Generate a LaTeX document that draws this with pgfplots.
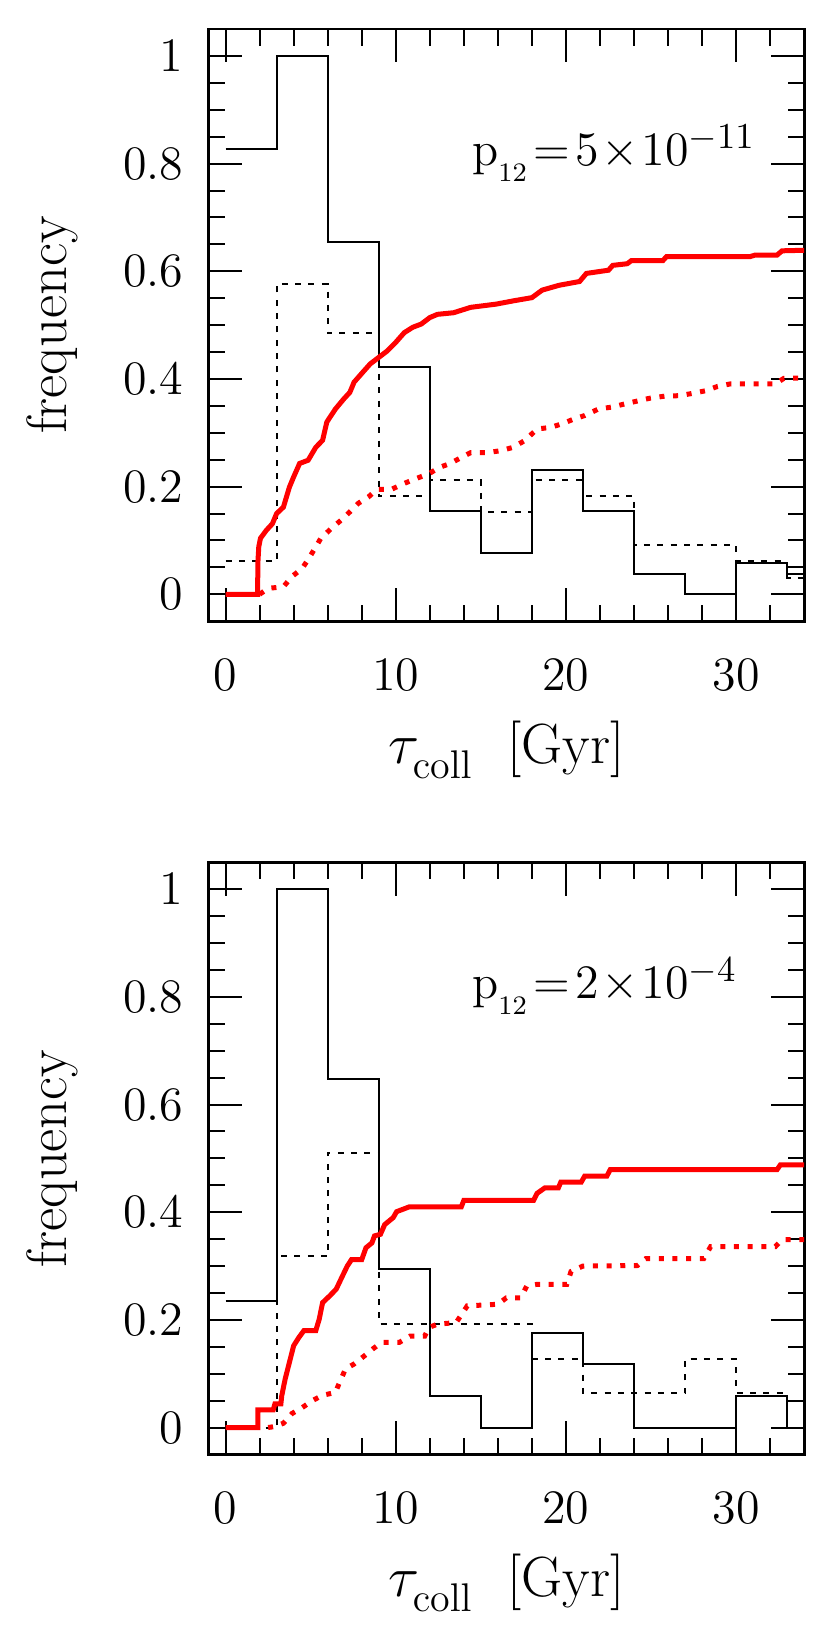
\documentclass[border=0pt]{standalone}
\usepackage{pgfplots}
\pgfplotsset{compat=1.18}
\definecolor{histred}{RGB}{255,0,0}

\pgfplotsset{
  panel/.style={
    scale only axis, width=178.65pt, height=177.6pt,
    xmin=-1, xmax=34, ymin=-0.05, ymax=1.05,
    xtick={0,10,20,30}, ytick={0,0.2,0.4,0.6,0.8,1},
    minor xtick={0,2,...,34}, minor ytick={0,0.05,...,1.01},
    tick align=inside, xtick pos=both, ytick pos=both,
    xticklabel pos=lower, yticklabel pos=left,
    major tick length=10pt, minor tick length=5pt,
    axis line style={line width=0.8pt},
    every tick/.append style={black, line width=0.6pt},
    tick label style={font=\fontsize{14.5}{14.5}\selectfont},
    xticklabel style={yshift=-8pt},
    yticklabel style={xshift=-4pt},
    label style={font=\fontsize{17}{17}\selectfont},
    xlabel={$\tau_{\raisebox{-2pt}{$\scriptstyle\mathrm{coll}$}}$\ \ [Gyr]}, ylabel={frequency},
    x label style={at={(axis description cs:0.5,-0.217)}, anchor=center},
    y label style={at={(axis description cs:-0.263,0.5)}, anchor=center},
  },
  hsolid/.style={const plot mark left, black, line width=0.6pt},
  hdot/.style={const plot mark left, black, line width=0.6pt, dash pattern=on 1.8pt off 2.2pt},
  cumsolid/.style={histred, line width=1.5pt},
  cumdot/.style={histred, line width=1.5pt, dash pattern=on 1.5pt off 2.6pt},
}
\newcommand{\ptwelve}{\mathrm{p}_{\raisebox{-2.5pt}{$\scriptscriptstyle 12$}}}

\begin{document}
\begin{tikzpicture}
\path[use as bounding box] (-62.55pt,-301.65pt) rectangle (186.45pt,186.3pt);

% top panel
\begin{axis}[panel, at={(0,0)}, anchor=south west]
\addplot[hsolid] coordinates {(0,0.827) (3,1) (6,0.654) (9,0.423) (12,0.154) (15,0.077) (18,0.231) (21,0.154) (24,0.038) (27,0) (30,0.058) (33,0.038) (36,0.038)};
\addplot[hdot] coordinates {(0,0.061) (3,0.576) (6,0.485) (9,0.182) (12,0.212) (15,0.152) (18,0.212) (21,0.182) (24,0.091) (27,0.091) (30,0.061) (33,0.03) (36,0.03)};
\addplot[cumsolid] coordinates {(0,0) (1.88,0) (1.9,0.06) (1.95,0.088) (2.05,0.104) (2.4,0.119) (2.75,0.131) (3.0,0.15) (3.4,0.162) (3.75,0.199) (4.0,0.218) (4.35,0.243) (4.85,0.249) (5.3,0.273) (5.7,0.286) (5.95,0.32) (6.45,0.344) (6.95,0.363) (7.3,0.375) (7.55,0.394) (8.05,0.412) (8.5,0.428) (9.0,0.44) (9.5,0.452) (10.0,0.468) (10.5,0.486) (11.0,0.496) (11.5,0.502) (12.0,0.514) (12.45,0.52) (13.4,0.523) (14.4,0.533) (15.9,0.539) (16.9,0.545) (18.0,0.551) (18.6,0.565) (19.6,0.574) (20.8,0.581) (21.2,0.596) (22.5,0.602) (22.75,0.611) (23.6,0.614) (23.85,0.62) (25.7,0.62) (25.9,0.627) (30.8,0.627) (31.1,0.63) (32.4,0.63) (32.7,0.638) (34,0.639)};
\addplot[cumdot] coordinates {(2.0,0) (2.5,0.011) (3.4,0.014) (3.9,0.033) (4.5,0.048) (4.9,0.067) (5.6,0.104) (6.2,0.122) (6.8,0.138) (7.3,0.153) (7.8,0.169) (8.4,0.181) (8.9,0.195) (9.75,0.195) (10.5,0.206) (11.2,0.215) (11.95,0.224) (12.6,0.236) (13.2,0.243) (13.9,0.255) (14.4,0.263) (15.4,0.263) (16.2,0.267) (16.9,0.273) (17.6,0.286) (18.3,0.307) (19.1,0.31) (19.8,0.317) (20.5,0.326) (21.1,0.332) (21.9,0.344) (22.75,0.348) (23.5,0.354) (24.2,0.359) (24.9,0.364) (25.8,0.368) (26.7,0.369) (27.4,0.373) (28.2,0.378) (28.9,0.386) (29.7,0.391) (32.3,0.391) (32.8,0.401) (34,0.402)};
\node[anchor=west, font=\fontsize{15.5}{15.5}\selectfont] at (axis cs:13.8,0.82) {$\ptwelve\!=\!5\!\times\!10^{-11}$};
\end{axis}

% bottom panel
\begin{axis}[panel, at={(0,-249.9pt)}, anchor=south west]
\addplot[hsolid] coordinates {(0,0.235) (3,1) (6,0.647) (9,0.294) (12,0.059) (15,0) (18,0.176) (21,0.118) (24,0) (27,0) (30,0.059) (33,0) (36,0)};
\addplot[hdot] coordinates {(0,0) (3,0.318) (6,0.51) (9,0.193) (12,0.193) (15,0.193) (18,0.127) (21,0.064) (24,0.064) (27,0.127) (30,0.064) (33,0) (36,0)};
\addplot[cumsolid] coordinates {(0,0) (1.9,0) (1.9,0.033) (2.8,0.033) (2.9,0.044) (3.25,0.044) (3.3,0.059) (3.5,0.09) (3.75,0.121) (4.0,0.152) (4.3,0.167) (4.6,0.18) (5.3,0.18) (5.5,0.201) (5.7,0.232) (6.1,0.244) (6.5,0.257) (6.8,0.277) (7.15,0.3) (7.4,0.312) (8.0,0.312) (8.25,0.334) (8.6,0.343) (8.75,0.356) (9.1,0.359) (9.35,0.377) (9.85,0.39) (10.05,0.401) (10.8,0.41) (13.85,0.41) (14.0,0.422) (18.1,0.422) (18.3,0.435) (18.75,0.445) (19.55,0.445) (19.7,0.456) (20.9,0.456) (21.1,0.467) (22.4,0.467) (22.6,0.479) (32.4,0.479) (32.6,0.488) (34,0.488)};
\addplot[cumdot] coordinates {(2.5,0) (2.9,0.002) (3.4,0.008) (3.9,0.026) (4.5,0.037) (5.1,0.05) (5.7,0.06) (6.45,0.065) (6.7,0.084) (7.05,0.109) (7.55,0.118) (8.15,0.133) (8.65,0.146) (9.15,0.158) (10.2,0.158) (10.85,0.17) (11.7,0.17) (11.95,0.186) (12.45,0.192) (13.55,0.195) (14.2,0.226) (16.0,0.229) (16.5,0.241) (17.35,0.241) (17.7,0.263) (18.3,0.266) (20.05,0.266) (20.3,0.29) (21.0,0.3) (24.2,0.301) (24.7,0.314) (28.1,0.314) (28.5,0.336) (32.3,0.336) (32.7,0.349) (34,0.349)};
\node[anchor=west, font=\fontsize{15.5}{15.5}\selectfont] at (axis cs:13.8,0.82) {$\ptwelve\!=\!2\!\times\!10^{-4}$};
\end{axis}
\end{tikzpicture}
\end{document}
